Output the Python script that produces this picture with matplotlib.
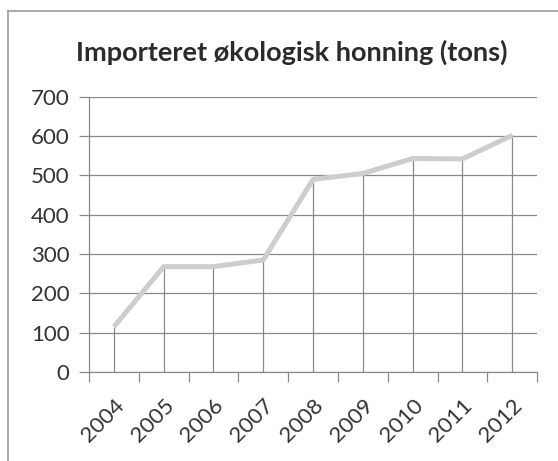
import numpy as np
import matplotlib.pyplot as plt
from matplotlib.lines import Line2D

# ---- data ----
years = ["2004", "2005", "2006", "2007", "2008", "2009", "2010", "2011", "2012"]
tons = [115, 268, 268, 285, 490, 505, 543, 542, 602]
y_ticks = [0, 100, 200, 300, 400, 500, 600, 700]

title = "Importeret økologisk honning (tons)"

plt.rcParams["font.family"] = ["Lato", "DejaVu Sans"]

fig = plt.figure(figsize=(5.58, 4.61), dpi=100)
ax = fig.add_axes([0.1595, 0.193, 0.803, 0.597])

x = np.arange(len(years))
grid_col = "#8a8a8a"

# drop lines from each point down to the axis
ax.vlines(x, 0, tons, color=grid_col, linewidth=0.9, zorder=1)
ax.plot(x, tons, color="#cdcdcd", linewidth=3.6, solid_capstyle="butt", zorder=3)

ax.set_xlim(-0.5, len(years) - 0.5)
ax.set_ylim(0, 700)
ax.set_yticks(y_ticks)
ax.grid(True, axis="y", color=grid_col, linewidth=0.9)
ax.set_axisbelow(True)

# category ticks sit between the categories
ax.set_xticks(np.arange(-0.5, len(years), 1.0))
ax.set_xticklabels([])
ax.set_xticks(x, minor=True)
ax.set_xticklabels(years, minor=True, rotation=45, ha="right",
                   rotation_mode="anchor", fontsize=16, color="#333333")
ax.tick_params(axis="x", which="minor", length=0, pad=17)
ax.tick_params(axis="x", which="major", length=7, color=grid_col, width=0.9)
ax.tick_params(axis="y", length=7, color=grid_col, width=0.9,
               labelsize=16, labelcolor="#333333", pad=7)

for side in ["top", "right"]:
    ax.spines[side].set_visible(False)
for side in ["left", "bottom"]:
    ax.spines[side].set_color(grid_col)
    ax.spines[side].set_linewidth(0.9)

fig.text(0.523, 0.886, title, ha="center", va="center", fontsize=19.5,
         fontweight="bold", color="#2b2b2b")

# chart frame (left and top edges are visible in the scan)
fig.add_artist(Line2D([8 / 558, 8 / 558], [0, 1 - 11 / 461], color="#9a9a9a", linewidth=1.2))
fig.add_artist(Line2D([8 / 558, 1], [1 - 11 / 461, 1 - 11 / 461], color="#9a9a9a", linewidth=1.2))

fig.savefig("out.png", dpi=100)
